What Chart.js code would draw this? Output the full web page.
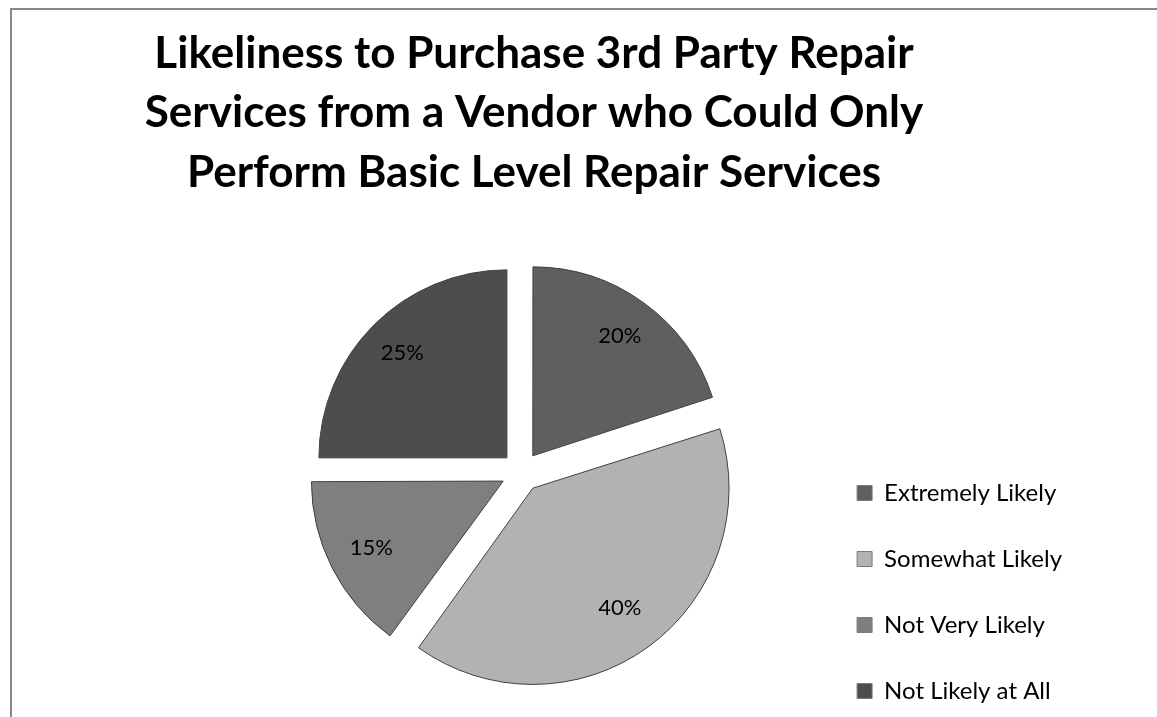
<!DOCTYPE html>
<html><head><meta charset="utf-8">
<script src="https://cdn.jsdelivr.net/npm/chart.js@4.4.0/dist/chart.umd.min.js"></script>
<style>
html,body{margin:0;padding:0;background:#fff;overflow:hidden;width:1157px;height:717px;}
#frame{position:absolute;left:10px;top:8px;width:1300px;height:900px;border-left:2px solid #888;border-top:2px solid #888;box-sizing:border-box;}
#wrap{position:absolute;left:0;top:0;width:1157px;height:745px;}
</style></head><body>
<div id="frame"></div>
<div id="wrap"><canvas id="c"></canvas></div>
<script>
const categories = ['Extremely Likely', 'Somewhat Likely', 'Not Very Likely', 'Not Likely at All'];
const shares = [20, 40, 15, 25];
const sliceColors = ['#5f5f5f', '#b2b2b2', '#7f7f7f', '#4d4d4d'];
const titleLines = ['Likeliness to Purchase 3rd Party Repair', 'Services from a Vendor who Could Only', 'Perform Basic Level Repair Services'];

const FONT = 'Lato';

const titlePlugin = {
  id: 'excelTitle',
  afterDraw(chart) {
    const ctx = chart.ctx;
    ctx.save();
    ctx.font = 'bold 44px ' + FONT;
    ctx.fillStyle = '#000';
    ctx.textAlign = 'center';
    ctx.textBaseline = 'alphabetic';
    const ys = [68, 127, 187];
    titleLines.forEach((t, i) => ctx.fillText(t, 534, ys[i]));
    ctx.restore();
  }
};

const pctPlugin = {
  id: 'pctLabels',
  afterDatasetsDraw(chart) {
    const meta = chart.getDatasetMeta(0);
    const ds = chart.data.datasets[0];
    const ctx = chart.ctx;
    ctx.save();
    ctx.font = '22px ' + FONT;
    ctx.fillStyle = '#000';
    ctx.textAlign = 'center';
    ctx.textBaseline = 'middle';
    meta.data.forEach((arc, i) => {
      const p = arc.getProps(['x', 'y', 'startAngle', 'endAngle', 'outerRadius'], true);
      const mid = (p.startAngle + p.endAngle) / 2;
      const d = (arc.options.offset || 0) / 4 + p.outerRadius * 0.787;
      ctx.fillText(ds.data[i] + '%', p.x + Math.cos(mid) * d, p.y + Math.sin(mid) * d);
    });
    ctx.restore();
  }
};

new Chart(document.getElementById('c'), {
  type: 'pie',
  data: {
    labels: categories,
    datasets: [{
      data: shares,
      backgroundColor: sliceColors,
      borderColor: '#404040',
      borderWidth: 1,
      offset: 80,
      hoverOffset: 80,
      radius: 188
    }]
  },
  options: {
    responsive: true,
    maintainAspectRatio: false,
    animation: false,
    events: [],
    layout: { padding: { left: 227, top: 199, right: 85, bottom: 0 } },
    plugins: {
      title: { display: false },
      tooltip: { enabled: false },
      legend: {
        position: 'right',
        align: 'end',
        labels: {
          boxWidth: 15,
          boxHeight: 15,
          padding: 42,
          color: '#000',
          font: { family: FONT, size: 24 },
          generateLabels(ch) {
            const items = Chart.overrides.pie.plugins.legend.labels.generateLabels(ch);
            items.forEach(it => { it.strokeStyle = '#7a7a7a'; it.lineWidth = 1; });
            return items;
          }
        }
      }
    }
  },
  plugins: [pctPlugin, titlePlugin]
});
</script>
</body></html>
